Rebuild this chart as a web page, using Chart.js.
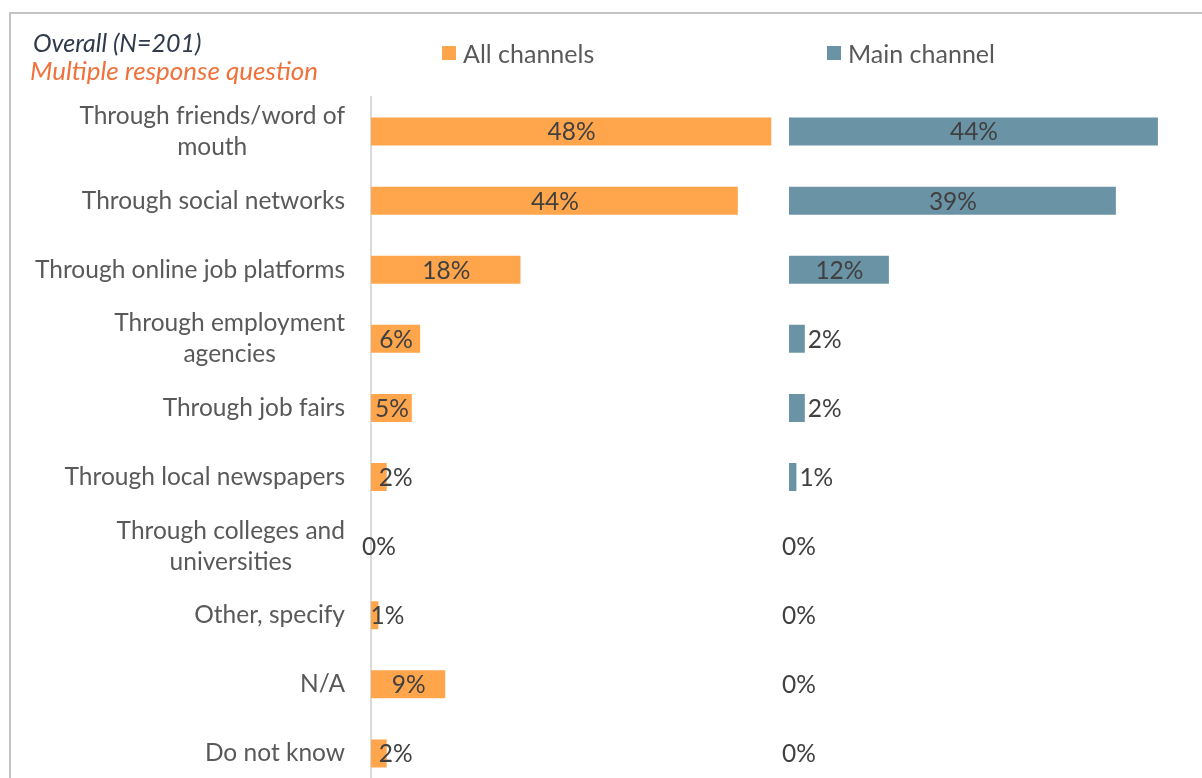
<!DOCTYPE html>
<html>
<head>
<meta charset="utf-8">
<script src="https://cdn.jsdelivr.net/npm/chart.js@4.4.1/dist/chart.umd.min.js"></script>
<style>
  html, body { margin: 0; padding: 0; background: #fff; overflow: hidden; }
  #wrap { position: relative; width: 1202px; height: 778px; overflow: hidden; }
  #frame { position: absolute; left: 9px; top: 12px; width: 1300px; height: 900px;
           border-left: 2px solid #c4c4c4; border-top: 2px solid #c4c4c4; }
  canvas { position: absolute; left: 0; top: 0; }
  .note { position: absolute; font-family: Lato, sans-serif; font-style: italic;
          line-height: 28px; white-space: nowrap; }
  #t1 { left: 33px; top: 28px; color: #2f3a4c; font-size: 25px; }
  #t2 { left: 30px; top: 56px; color: #f0713a; font-size: 26px; }
  .lg { position: absolute; top: 39px; font-family: Lato, sans-serif; font-size: 25px; line-height: 28px;
        color: #595959; display: flex; align-items: center; white-space: nowrap; }
  .lg i { width: 14px; height: 14px; margin-right: 7px; display: inline-block; }
  #lg0 { left: 442px; }
  #lg1 { left: 827px; }
</style>
</head>
<body>
<div id="wrap">
  <div id="frame"></div>
  <canvas id="chart" width="1202" height="800"></canvas>
  <div class="note" id="t1">Overall (N=201)</div>
  <div class="note" id="t2">Multiple response question</div>
  <div class="lg" id="lg0"></div>
  <div class="lg" id="lg1"></div>
</div>
<script>
const categories = [
  ['Through friends/word of', 'mouth'],
  'Through social networks',
  'Through online job platforms',
  ['Through employment', 'agencies'],
  'Through job fairs',
  'Through local newspapers',
  ['Through colleges and', 'universities'],
  'Other, specify',
  'N/A',
  'Do not know'
];
const allChannels = [48, 44, 18, 6, 5, 2, 0, 1, 9, 2];
const mainChannel = [44, 39, 12, 2, 2, 1, 0, 0, 0, 0];
const seriesNames = ['All channels', 'Main channel'];
const seriesColors = ['#FFA64D', '#6B93A6'];

const labelFont = '24.5px Lato, sans-serif';

// category names drawn right-aligned as a block, lines centred within it
const categoryLabels = {
  id: 'categoryLabels',
  afterDraw(chart) {
    const ctx = chart.ctx;
    const y = chart.scales.y;
    ctx.save();
    ctx.font = labelFont;
    ctx.fillStyle = '#595959';
    ctx.textAlign = 'center';
    ctx.textBaseline = 'middle';
    categories.forEach((lab, i) => {
      const lines = [].concat(lab);
      const w = Math.max(...lines.map(l => ctx.measureText(l).width));
      const cx = chart.chartArea.left - 26 - w / 2;
      const cy = y.getPixelForTick(i);
      lines.forEach((l, k) => ctx.fillText(l, cx, cy + (k - (lines.length - 1) / 2) * 31));
    });
    ctx.restore();
  }
};

// percentage labels; short bars push the text past the bar end
const valueLabels = {
  id: 'valueLabels',
  afterDatasetsDraw(chart) {
    const ctx = chart.ctx;
    ctx.save();
    ctx.font = labelFont;
    ctx.fillStyle = '#404040';
    ctx.textAlign = 'center';
    ctx.textBaseline = 'middle';
    chart.data.datasets.forEach((ds, di) => {
      chart.getDatasetMeta(di).data.forEach((bar, i) => {
        const v = ds.data[i];
        const txt = v + '%';
        const tw = ctx.measureText(txt).width;
        const { x, y, base } = bar.getProps(['x', 'y', 'base'], true);
        let cx;
        if (x - base >= tw) cx = (x + base) / 2;
        else if (di === 0) cx = x + 8;
        else cx = v === 0 ? base + 10 : x + 2 + tw / 2;
        ctx.fillText(txt, cx, y + 1);
      });
    });
    ctx.restore();
  }
};

const chart = new Chart(document.getElementById('chart'), {
  type: 'bar',
  data: {
    labels: categories,
    datasets: [
      { label: seriesNames[0], data: allChannels, xAxisID: 'x', backgroundColor: seriesColors[0] },
      { label: seriesNames[1], data: mainChannel, xAxisID: 'x2', backgroundColor: seriesColors[1] }
    ]
  },
  options: {
    indexAxis: 'y',
    responsive: false,
    animation: false,
    layout: { padding: { top: 97, bottom: 12, right: 12, left: 0 } },
    datasets: {
      bar: {
        grouped: false,
        barPercentage: 0.434,
        categoryPercentage: 1,
        borderWidth: 1,
        borderColor: 'rgba(255,255,255,0.55)'
      }
    },
    plugins: { legend: { display: false }, tooltip: { enabled: false } },
    scales: {
      y: {
        grid: { display: false },
        ticks: { display: false },
        border: { display: true, color: '#d9d9d9', width: 2 },
        afterFit(s) { s.width = 371; }
      },
      x: { type: 'linear', stack: 'panels', stackWeight: 418, min: 0, max: 50, display: false },
      x2: { type: 'linear', position: 'bottom', stack: 'panels', stackWeight: 401, min: 0, max: 47.7, display: false }
    }
  },
  plugins: [categoryLabels, valueLabels]
});

// legend boxes built from the dataset names and colours
chart.data.datasets.forEach((ds, i) => {
  const el = document.getElementById('lg' + i);
  const sw = document.createElement('i');
  sw.style.background = ds.backgroundColor;
  el.appendChild(sw);
  el.appendChild(document.createTextNode(ds.label));
});
</script>
</body>
</html>
